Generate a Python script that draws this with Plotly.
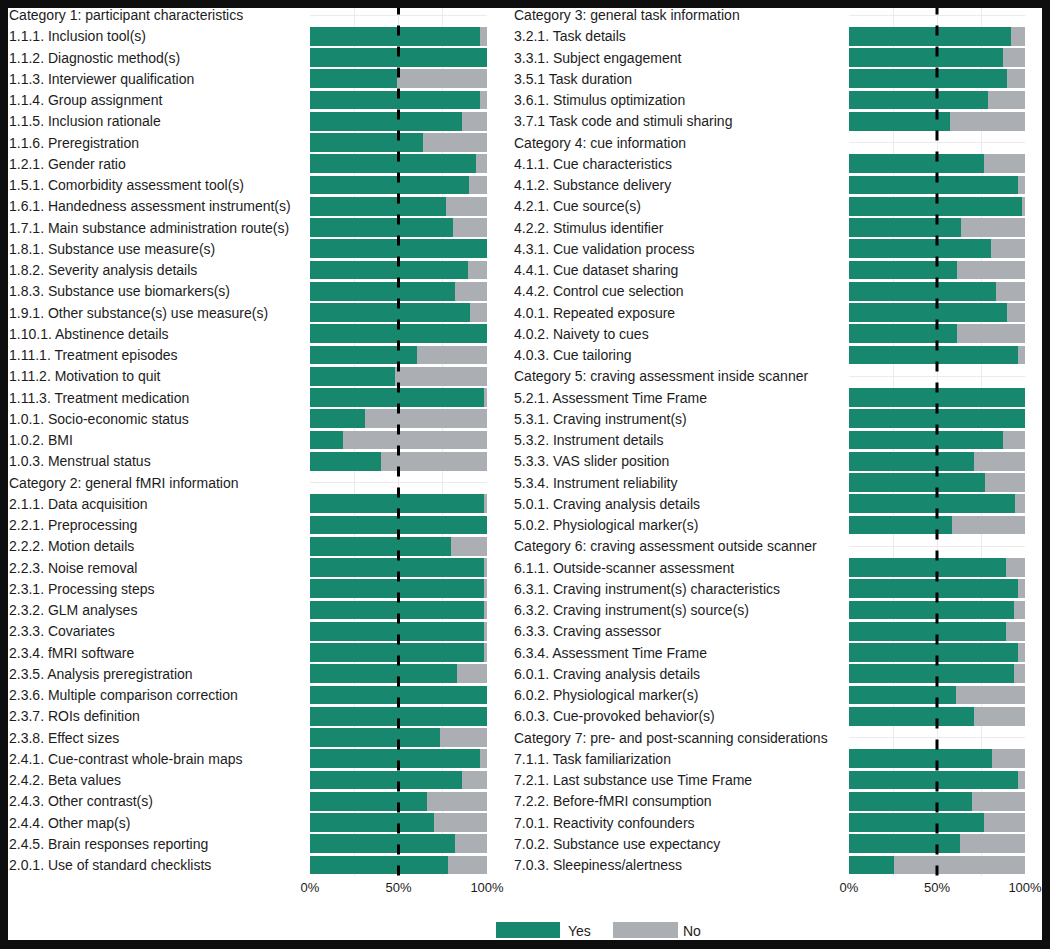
import plotly.graph_objects as go

# rows per panel, top to bottom; category headers have no bar (None)
left_labels = [
    "Category 1: participant characteristics",
    "1.1.1. Inclusion tool(s)",
    "1.1.2. Diagnostic method(s)",
    "1.1.3. Interviewer qualification",
    "1.1.4. Group assignment",
    "1.1.5. Inclusion rationale",
    "1.1.6. Preregistration",
    "1.2.1. Gender ratio",
    "1.5.1. Comorbidity assessment tool(s)",
    "1.6.1. Handedness assessment instrument(s)",
    "1.7.1. Main substance administration route(s)",
    "1.8.1. Substance use measure(s)",
    "1.8.2. Severity analysis details",
    "1.8.3. Substance use biomarkers(s)",
    "1.9.1. Other substance(s) use measure(s)",
    "1.10.1. Abstinence details",
    "1.11.1. Treatment episodes",
    "1.11.2. Motivation to quit",
    "1.11.3. Treatment medication",
    "1.0.1. Socio-economic status",
    "1.0.2. BMI",
    "1.0.3. Menstrual status",
    "Category 2: general fMRI information",
    "2.1.1. Data acquisition",
    "2.2.1. Preprocessing",
    "2.2.2. Motion details",
    "2.2.3. Noise removal",
    "2.3.1. Processing steps",
    "2.3.2. GLM analyses",
    "2.3.3. Covariates",
    "2.3.4. fMRI software",
    "2.3.5. Analysis preregistration",
    "2.3.6. Multiple comparison correction",
    "2.3.7. ROIs definition",
    "2.3.8. Effect sizes",
    "2.4.1. Cue-contrast whole-brain maps",
    "2.4.2. Beta values",
    "2.4.3. Other contrast(s)",
    "2.4.4. Other map(s)",
    "2.4.5. Brain responses reporting",
    "2.0.1. Use of standard checklists",
]
left_yes = [
    None, 96.2, 100, 49.3, 96.2, 85.8, 64.1, 94.0, 89.6, 76.9, 80.7,
    100, 89.4, 82.2, 90.2, 100, 60.7, 48.2, 98.3, 31.0, 18.7, 40.3,
    None, 98.3, 100, 79.4, 98.3, 98.3, 98.3, 98.3, 98.3, 83.2, 100,
    100, 73.5, 96.2, 85.8, 66.2, 69.8, 82.2, 78.1,
]

right_labels = [
    "Category 3: general task information",
    "3.2.1. Task details",
    "3.3.1. Subject engagement",
    "3.5.1 Task duration",
    "3.6.1. Stimulus optimization",
    "3.7.1 Task code and stimuli sharing",
    "Category 4: cue information",
    "4.1.1. Cue characteristics",
    "4.1.2. Substance delivery",
    "4.2.1. Cue source(s)",
    "4.2.2. Stimulus identifier",
    "4.3.1. Cue validation process",
    "4.4.1. Cue dataset sharing",
    "4.4.2. Control cue selection",
    "4.0.1. Repeated exposure",
    "4.0.2. Naivety to cues",
    "4.0.3. Cue tailoring",
    "Category 5: craving assessment inside scanner",
    "5.2.1. Assessment Time Frame",
    "5.3.1. Craving instrument(s)",
    "5.3.2. Instrument details",
    "5.3.3. VAS slider position",
    "5.3.4. Instrument reliability",
    "5.0.1. Craving analysis details",
    "5.0.2. Physiological marker(s)",
    "Category 6: craving assessment outside scanner",
    "6.1.1. Outside-scanner assessment",
    "6.3.1. Craving instrument(s) characteristics",
    "6.3.2. Craving instrument(s) source(s)",
    "6.3.3. Craving assessor",
    "6.3.4. Assessment Time Frame",
    "6.0.1. Craving analysis details",
    "6.0.2. Physiological marker(s)",
    "6.0.3. Cue-provoked behavior(s)",
    "Category 7: pre- and post-scanning considerations",
    "7.1.1. Task familiarization",
    "7.2.1. Last substance use Time Frame",
    "7.2.2. Before-fMRI consumption",
    "7.0.1. Reactivity confounders",
    "7.0.2. Substance use expectancy",
    "7.0.3. Sleepiness/alertness",
]
right_yes = [
    None, 91.9, 87.7, 89.8, 79.2, 57.5,
    None, 76.6, 96.2, 98.5, 63.8, 80.6, 61.3, 83.4, 89.6, 61.3, 96.2,
    None, 100, 100, 87.7, 71.1, 77.4, 94.2, 58.5,
    None, 89.1, 96.0, 93.8, 89.4, 96.0, 93.8, 60.9, 71.3,
    None, 81.5, 96.0, 69.6, 76.6, 63.2, 25.5,
]

x_ticks = [0, 25, 50, 75, 100]
x_ticktext = ["0%", "", "50%", "", "100%"]

GREEN = "#17876e"
GREY = "#abaeb2"
TEXT = "#1c1c1c"
BLACK = "#0e0e0e"
FONT = "Liberation Sans, Arial, sans-serif"

# the page keeps its 8px body margin, so the figure sits at (8, 8) in the window
OFF = 8
W, H = 1050 - OFF, 949 - OFF

# row geometry in window pixels
ROW0_Y = 15.0
ROW_H = 21.25
PLOT_BOTTOM = 875.6


def px(x):
    # window pixel -> paper fraction
    return (x - OFF) / W


def py(y):
    return 1 - (y - OFF) / H


fig = go.Figure()

panels = [
    (left_labels, left_yes, "x", "y", 8),
    (right_labels, right_yes, "x2", "y2", 513),
]
annotations = []
for labels, yes, xa, ya, text_x in panels:
    rows = [i for i, v in enumerate(yes) if v is not None]
    vals = [yes[i] for i in rows]
    fig.add_trace(go.Bar(
        y=rows, x=vals, orientation="h", xaxis=xa, yaxis=ya,
        marker={"color": GREEN, "line": {"width": 0}}, width=0.88,
        name="Yes", showlegend=False,
    ))
    fig.add_trace(go.Bar(
        y=rows, x=[100 - v for v in vals], orientation="h", xaxis=xa, yaxis=ya,
        marker={"color": GREY, "line": {"width": 0}}, width=0.88,
        name="No", showlegend=False,
    ))
    for i, lab in enumerate(labels):
        annotations.append({
            "text": lab, "xref": "paper", "yref": ya, "x": px(text_x), "y": i,
            "xanchor": "left", "yanchor": "middle", "showarrow": False,
            "borderpad": 0,
            "font": {"size": 14, "color": TEXT, "family": FONT},
        })

# manual legend (wide swatches)
annotations += [
    {"text": "Yes", "xref": "paper", "yref": "paper", "x": px(567), "y": py(931),
     "xanchor": "left", "yanchor": "middle", "showarrow": False, "borderpad": 0,
     "font": {"size": 14, "color": TEXT, "family": FONT}},
    {"text": "No", "xref": "paper", "yref": "paper", "x": px(682), "y": py(931),
     "xanchor": "left", "yanchor": "middle", "showarrow": False, "borderpad": 0,
     "font": {"size": 14, "color": TEXT, "family": FONT}},
]

shapes = [
    # white canvas inside the black frame
    {"type": "rect", "xref": "paper", "yref": "paper", "x0": px(7), "x1": px(1042),
     "y0": py(940), "y1": 1, "fillcolor": "white", "line": {"width": 0},
     "layer": "below"},
    {"type": "rect", "xref": "paper", "yref": "paper", "x0": px(496), "x1": px(560),
     "y0": py(938), "y1": py(922), "fillcolor": GREEN, "line": {"width": 0}},
    {"type": "rect", "xref": "paper", "yref": "paper", "x0": px(613), "x1": px(678),
     "y0": py(938), "y1": py(922), "fillcolor": GREY, "line": {"width": 0}},
]
for xa, ya in [("x", "y"), ("x2", "y2")]:
    shapes.append({
        "type": "line", "xref": xa, "yref": f"{ya} domain", "x0": 50, "x1": 50,
        "y0": 0, "y1": 1, "line": {"color": "black", "width": 3, "dash": "10px,11px"},
        "layer": "above",
    })

axis_x = {
    "range": [0, 100], "tickvals": x_ticks, "ticktext": x_ticktext,
    "showgrid": True, "gridcolor": "#ebebeb", "gridwidth": 1,
    "zeroline": False, "showline": False, "ticks": "", "ticklabelstandoff": 2,
    "tickfont": {"size": 13, "color": TEXT, "family": FONT}, "fixedrange": True,
}
y_top = (OFF - ROW0_Y) / ROW_H
y_bottom = (PLOT_BOTTOM - ROW0_Y) / ROW_H
axis_y = {
    "range": [y_bottom, y_top], "tickvals": list(range(41)), "showticklabels": False,
    "showgrid": True, "gridcolor": "#ebebeb", "gridwidth": 1,
    "zeroline": False, "showline": False, "ticks": "", "fixedrange": True,
}
ydom = [py(PLOT_BOTTOM), 1]

fig.update_layout(
    width=W, height=H,
    margin={"l": 0, "r": 0, "t": 0, "b": 0, "autoexpand": False},
    paper_bgcolor=BLACK, plot_bgcolor="white",
    barmode="stack", bargap=0.12, showlegend=False,
    xaxis={**axis_x, "domain": [px(310), px(487)], "anchor": "y"},
    xaxis2={**axis_x, "domain": [px(849), px(1025)], "anchor": "y2"},
    yaxis={**axis_y, "domain": ydom, "anchor": "x"},
    yaxis2={**axis_y, "domain": ydom, "anchor": "x2"},
    annotations=annotations,
    shapes=shapes,
    font={"family": FONT, "color": TEXT},
)

fig.write_html(
    "out.html",
    config={"displayModeBar": False},
    post_script=f"document.body.style.backgroundColor='{BLACK}';",
)
